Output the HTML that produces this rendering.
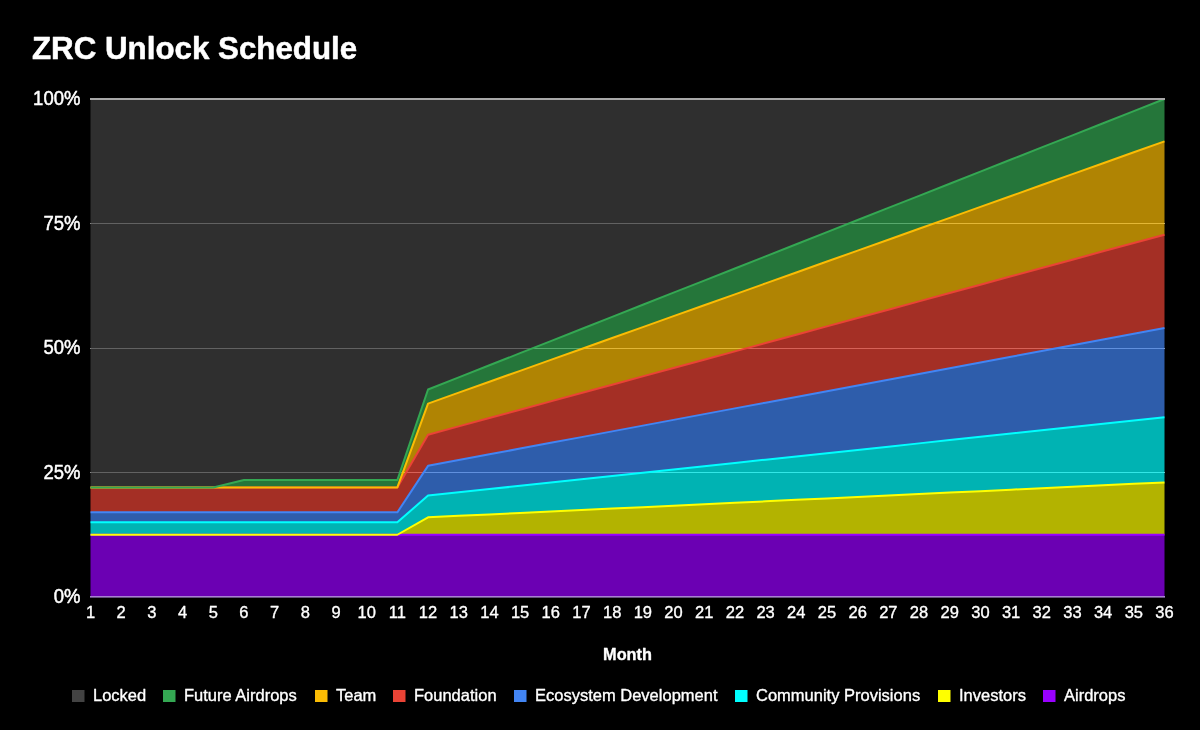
<!DOCTYPE html>
<html lang="en">
<head>
<meta charset="utf-8">
<title>ZRC Unlock Schedule</title>
<style>
html,body{margin:0;padding:0;background:#000;}
body{width:1200px;height:730px;overflow:hidden;font-family:"Liberation Sans",Arial,sans-serif;}
svg{display:block;}
</style>
</head>
<body>
<svg width="1200" height="730" viewBox="0 0 1200 730">
<rect width="1200" height="730" fill="#000"/>
<g fill="#aaaaaa">
<rect x="90" y="223" width="1075" height="1"/>
<rect x="90" y="348" width="1075" height="1"/>
<rect x="90" y="472" width="1075" height="1"/>
</g>
<g stroke-linejoin="round">
<polygon points="90.50,534.75 121.19,534.75 151.87,534.75 182.56,534.75 213.24,534.75 243.93,534.75 274.61,534.75 305.30,534.75 335.99,534.75 366.67,534.75 397.36,534.75 428.04,534.75 458.73,534.75 489.41,534.75 520.10,534.75 550.79,534.75 581.47,534.75 612.16,534.75 642.84,534.75 673.53,534.75 704.21,534.75 734.90,534.75 765.59,534.75 796.27,534.75 826.96,534.75 857.64,534.75 888.33,534.75 919.01,534.75 949.70,534.75 980.39,534.75 1011.07,534.75 1041.76,534.75 1072.44,534.75 1103.13,534.75 1133.81,534.75 1164.50,534.75 1164.50,597.00 1133.81,597.00 1103.13,597.00 1072.44,597.00 1041.76,597.00 1011.07,597.00 980.39,597.00 949.70,597.00 919.01,597.00 888.33,597.00 857.64,597.00 826.96,597.00 796.27,597.00 765.59,597.00 734.90,597.00 704.21,597.00 673.53,597.00 642.84,597.00 612.16,597.00 581.47,597.00 550.79,597.00 520.10,597.00 489.41,597.00 458.73,597.00 428.04,597.00 397.36,597.00 366.67,597.00 335.99,597.00 305.30,597.00 274.61,597.00 243.93,597.00 213.24,597.00 182.56,597.00 151.87,597.00 121.19,597.00 90.50,597.00" fill="#9900ff" fill-opacity="0.7"/>
<polygon points="90.50,534.75 121.19,534.75 151.87,534.75 182.56,534.75 213.24,534.75 243.93,534.75 274.61,534.75 305.30,534.75 335.99,534.75 366.67,534.75 397.36,534.75 428.04,517.30 458.73,515.85 489.41,514.40 520.10,512.94 550.79,511.49 581.47,510.03 612.16,508.58 642.84,507.13 673.53,505.67 704.21,504.22 734.90,502.76 765.59,501.31 796.27,499.86 826.96,498.40 857.64,496.95 888.33,495.50 919.01,494.04 949.70,492.59 980.39,491.13 1011.07,489.68 1041.76,488.23 1072.44,486.77 1103.13,485.32 1133.81,483.86 1164.50,482.41 1164.50,534.75 1133.81,534.75 1103.13,534.75 1072.44,534.75 1041.76,534.75 1011.07,534.75 980.39,534.75 949.70,534.75 919.01,534.75 888.33,534.75 857.64,534.75 826.96,534.75 796.27,534.75 765.59,534.75 734.90,534.75 704.21,534.75 673.53,534.75 642.84,534.75 612.16,534.75 581.47,534.75 550.79,534.75 520.10,534.75 489.41,534.75 458.73,534.75 428.04,534.75 397.36,534.75 366.67,534.75 335.99,534.75 305.30,534.75 274.61,534.75 243.93,534.75 213.24,534.75 182.56,534.75 151.87,534.75 121.19,534.75 90.50,534.75" fill="#ffff00" fill-opacity="0.7"/>
<polygon points="90.50,522.30 121.19,522.30 151.87,522.30 182.56,522.30 213.24,522.30 243.93,522.30 274.61,522.30 305.30,522.30 335.99,522.30 366.67,522.30 397.36,522.30 428.04,495.59 458.73,492.33 489.41,489.06 520.10,485.80 550.79,482.54 581.47,479.27 612.16,476.01 642.84,472.75 673.53,469.48 704.21,466.22 734.90,462.96 765.59,459.69 796.27,456.43 826.96,453.17 857.64,449.90 888.33,446.64 919.01,443.38 949.70,440.11 980.39,436.85 1011.07,433.59 1041.76,430.32 1072.44,427.06 1103.13,423.80 1133.81,420.54 1164.50,417.27 1164.50,482.41 1133.81,483.86 1103.13,485.32 1072.44,486.77 1041.76,488.23 1011.07,489.68 980.39,491.13 949.70,492.59 919.01,494.04 888.33,495.50 857.64,496.95 826.96,498.40 796.27,499.86 765.59,501.31 734.90,502.76 704.21,504.22 673.53,505.67 642.84,507.13 612.16,508.58 581.47,510.03 550.79,511.49 520.10,512.94 489.41,514.40 458.73,515.85 428.04,517.30 397.36,534.75 366.67,534.75 335.99,534.75 305.30,534.75 274.61,534.75 243.93,534.75 213.24,534.75 182.56,534.75 151.87,534.75 121.19,534.75 90.50,534.75" fill="#00ffff" fill-opacity="0.7"/>
<polygon points="90.50,512.34 121.19,512.34 151.87,512.34 182.56,512.34 213.24,512.34 243.93,512.34 274.61,512.34 305.30,512.34 335.99,512.34 366.67,512.34 397.36,512.34 428.04,465.83 458.73,460.08 489.41,454.34 520.10,448.60 550.79,442.85 581.47,437.11 612.16,431.37 642.84,425.62 673.53,419.88 704.21,414.13 734.90,408.39 765.59,402.65 796.27,396.90 826.96,391.16 857.64,385.42 888.33,379.67 919.01,373.93 949.70,368.19 980.39,362.44 1011.07,356.70 1041.76,350.95 1072.44,345.21 1103.13,339.47 1133.81,333.72 1164.50,327.98 1164.50,417.27 1133.81,420.54 1103.13,423.80 1072.44,427.06 1041.76,430.32 1011.07,433.59 980.39,436.85 949.70,440.11 919.01,443.38 888.33,446.64 857.64,449.90 826.96,453.17 796.27,456.43 765.59,459.69 734.90,462.96 704.21,466.22 673.53,469.48 642.84,472.75 612.16,476.01 581.47,479.27 550.79,482.54 520.10,485.80 489.41,489.06 458.73,492.33 428.04,495.59 397.36,522.30 366.67,522.30 335.99,522.30 305.30,522.30 274.61,522.30 243.93,522.30 213.24,522.30 182.56,522.30 151.87,522.30 121.19,522.30 90.50,522.30" fill="#4285f4" fill-opacity="0.7"/>
<polygon points="90.50,487.44 121.19,487.44 151.87,487.44 182.56,487.44 213.24,487.44 243.93,487.44 274.61,487.44 305.30,487.44 335.99,487.44 366.67,487.44 397.36,487.44 428.04,434.72 458.73,426.38 489.41,418.05 520.10,409.71 550.79,401.37 581.47,393.04 612.16,384.70 642.84,376.37 673.53,368.03 704.21,359.69 734.90,351.36 765.59,343.02 796.27,334.69 826.96,326.35 857.64,318.01 888.33,309.68 919.01,301.34 949.70,293.01 980.39,284.67 1011.07,276.34 1041.76,268.00 1072.44,259.66 1103.13,251.33 1133.81,242.99 1164.50,234.66 1164.50,327.98 1133.81,333.72 1103.13,339.47 1072.44,345.21 1041.76,350.95 1011.07,356.70 980.39,362.44 949.70,368.19 919.01,373.93 888.33,379.67 857.64,385.42 826.96,391.16 796.27,396.90 765.59,402.65 734.90,408.39 704.21,414.13 673.53,419.88 642.84,425.62 612.16,431.37 581.47,437.11 550.79,442.85 520.10,448.60 489.41,454.34 458.73,460.08 428.04,465.83 397.36,512.34 366.67,512.34 335.99,512.34 305.30,512.34 274.61,512.34 243.93,512.34 213.24,512.34 182.56,512.34 151.87,512.34 121.19,512.34 90.50,512.34" fill="#ea4335" fill-opacity="0.7"/>
<polygon points="90.50,487.44 121.19,487.44 151.87,487.44 182.56,487.44 213.24,487.44 243.93,487.44 274.61,487.44 305.30,487.44 335.99,487.44 366.67,487.44 397.36,487.44 428.04,403.61 458.73,392.68 489.41,381.75 520.10,370.83 550.79,359.90 581.47,348.97 612.16,338.04 642.84,327.11 673.53,316.18 704.21,305.26 734.90,294.33 765.59,283.40 796.27,272.47 826.96,261.54 857.64,250.61 888.33,239.69 919.01,228.76 949.70,217.83 980.39,206.90 1011.07,195.97 1041.76,185.04 1072.44,174.12 1103.13,163.19 1133.81,152.26 1164.50,141.33 1164.50,234.66 1133.81,242.99 1103.13,251.33 1072.44,259.66 1041.76,268.00 1011.07,276.34 980.39,284.67 949.70,293.01 919.01,301.34 888.33,309.68 857.64,318.01 826.96,326.35 796.27,334.69 765.59,343.02 734.90,351.36 704.21,359.69 673.53,368.03 642.84,376.37 612.16,384.70 581.47,393.04 550.79,401.37 520.10,409.71 489.41,418.05 458.73,426.38 428.04,434.72 397.36,487.44 366.67,487.44 335.99,487.44 305.30,487.44 274.61,487.44 243.93,487.44 213.24,487.44 182.56,487.44 151.87,487.44 121.19,487.44 90.50,487.44" fill="#fbbc04" fill-opacity="0.7"/>
<polygon points="90.50,487.44 121.19,487.44 151.87,487.44 182.56,487.44 213.24,487.44 243.93,479.97 274.61,479.97 305.30,479.97 335.99,479.97 366.67,479.97 397.36,479.97 428.04,389.50 458.73,377.40 489.41,365.29 520.10,353.19 550.79,341.08 581.47,328.98 612.16,316.88 642.84,304.77 673.53,292.67 704.21,280.56 734.90,268.46 765.59,256.35 796.27,244.25 826.96,232.15 857.64,220.04 888.33,207.94 919.01,195.83 949.70,183.73 980.39,171.63 1011.07,159.52 1041.76,147.42 1072.44,135.31 1103.13,123.21 1133.81,111.10 1164.50,99.00 1164.50,141.33 1133.81,152.26 1103.13,163.19 1072.44,174.12 1041.76,185.04 1011.07,195.97 980.39,206.90 949.70,217.83 919.01,228.76 888.33,239.69 857.64,250.61 826.96,261.54 796.27,272.47 765.59,283.40 734.90,294.33 704.21,305.26 673.53,316.18 642.84,327.11 612.16,338.04 581.47,348.97 550.79,359.90 520.10,370.83 489.41,381.75 458.73,392.68 428.04,403.61 397.36,487.44 366.67,487.44 335.99,487.44 305.30,487.44 274.61,487.44 243.93,487.44 213.24,487.44 182.56,487.44 151.87,487.44 121.19,487.44 90.50,487.44" fill="#34a853" fill-opacity="0.7"/>
<polygon points="90.50,99.00 121.19,99.00 151.87,99.00 182.56,99.00 213.24,99.00 243.93,99.00 274.61,99.00 305.30,99.00 335.99,99.00 366.67,99.00 397.36,99.00 428.04,99.00 458.73,99.00 489.41,99.00 520.10,99.00 550.79,99.00 581.47,99.00 612.16,99.00 642.84,99.00 673.53,99.00 704.21,99.00 734.90,99.00 765.59,99.00 796.27,99.00 826.96,99.00 857.64,99.00 888.33,99.00 919.01,99.00 949.70,99.00 980.39,99.00 1011.07,99.00 1041.76,99.00 1072.44,99.00 1103.13,99.00 1133.81,99.00 1164.50,99.00 1164.50,99.00 1133.81,111.10 1103.13,123.21 1072.44,135.31 1041.76,147.42 1011.07,159.52 980.39,171.63 949.70,183.73 919.01,195.83 888.33,207.94 857.64,220.04 826.96,232.15 796.27,244.25 765.59,256.35 734.90,268.46 704.21,280.56 673.53,292.67 642.84,304.77 612.16,316.88 581.47,328.98 550.79,341.08 520.10,353.19 489.41,365.29 458.73,377.40 428.04,389.50 397.36,479.97 366.67,479.97 335.99,479.97 305.30,479.97 274.61,479.97 243.93,479.97 213.24,487.44 182.56,487.44 151.87,487.44 121.19,487.44 90.50,487.44" fill="#434343" fill-opacity="0.7"/>
<polyline points="90.50,534.75 121.19,534.75 151.87,534.75 182.56,534.75 213.24,534.75 243.93,534.75 274.61,534.75 305.30,534.75 335.99,534.75 366.67,534.75 397.36,534.75 428.04,534.75 458.73,534.75 489.41,534.75 520.10,534.75 550.79,534.75 581.47,534.75 612.16,534.75 642.84,534.75 673.53,534.75 704.21,534.75 734.90,534.75 765.59,534.75 796.27,534.75 826.96,534.75 857.64,534.75 888.33,534.75 919.01,534.75 949.70,534.75 980.39,534.75 1011.07,534.75 1041.76,534.75 1072.44,534.75 1103.13,534.75 1133.81,534.75 1164.50,534.75" fill="none" stroke="#9900ff" stroke-width="2"/>
<polyline points="90.50,534.75 121.19,534.75 151.87,534.75 182.56,534.75 213.24,534.75 243.93,534.75 274.61,534.75 305.30,534.75 335.99,534.75 366.67,534.75 397.36,534.75 428.04,517.30 458.73,515.85 489.41,514.40 520.10,512.94 550.79,511.49 581.47,510.03 612.16,508.58 642.84,507.13 673.53,505.67 704.21,504.22 734.90,502.76 765.59,501.31 796.27,499.86 826.96,498.40 857.64,496.95 888.33,495.50 919.01,494.04 949.70,492.59 980.39,491.13 1011.07,489.68 1041.76,488.23 1072.44,486.77 1103.13,485.32 1133.81,483.86 1164.50,482.41" fill="none" stroke="#ffff00" stroke-width="2"/>
<polyline points="90.50,522.30 121.19,522.30 151.87,522.30 182.56,522.30 213.24,522.30 243.93,522.30 274.61,522.30 305.30,522.30 335.99,522.30 366.67,522.30 397.36,522.30 428.04,495.59 458.73,492.33 489.41,489.06 520.10,485.80 550.79,482.54 581.47,479.27 612.16,476.01 642.84,472.75 673.53,469.48 704.21,466.22 734.90,462.96 765.59,459.69 796.27,456.43 826.96,453.17 857.64,449.90 888.33,446.64 919.01,443.38 949.70,440.11 980.39,436.85 1011.07,433.59 1041.76,430.32 1072.44,427.06 1103.13,423.80 1133.81,420.54 1164.50,417.27" fill="none" stroke="#00ffff" stroke-width="2"/>
<polyline points="90.50,512.34 121.19,512.34 151.87,512.34 182.56,512.34 213.24,512.34 243.93,512.34 274.61,512.34 305.30,512.34 335.99,512.34 366.67,512.34 397.36,512.34 428.04,465.83 458.73,460.08 489.41,454.34 520.10,448.60 550.79,442.85 581.47,437.11 612.16,431.37 642.84,425.62 673.53,419.88 704.21,414.13 734.90,408.39 765.59,402.65 796.27,396.90 826.96,391.16 857.64,385.42 888.33,379.67 919.01,373.93 949.70,368.19 980.39,362.44 1011.07,356.70 1041.76,350.95 1072.44,345.21 1103.13,339.47 1133.81,333.72 1164.50,327.98" fill="none" stroke="#4285f4" stroke-width="2"/>
<polyline points="90.50,487.44 121.19,487.44 151.87,487.44 182.56,487.44 213.24,487.44 243.93,487.44 274.61,487.44 305.30,487.44 335.99,487.44 366.67,487.44 397.36,487.44 428.04,434.72 458.73,426.38 489.41,418.05 520.10,409.71 550.79,401.37 581.47,393.04 612.16,384.70 642.84,376.37 673.53,368.03 704.21,359.69 734.90,351.36 765.59,343.02 796.27,334.69 826.96,326.35 857.64,318.01 888.33,309.68 919.01,301.34 949.70,293.01 980.39,284.67 1011.07,276.34 1041.76,268.00 1072.44,259.66 1103.13,251.33 1133.81,242.99 1164.50,234.66" fill="none" stroke="#ea4335" stroke-width="2"/>
<polyline points="90.50,487.44 121.19,487.44 151.87,487.44 182.56,487.44 213.24,487.44 243.93,487.44 274.61,487.44 305.30,487.44 335.99,487.44 366.67,487.44 397.36,487.44 428.04,403.61 458.73,392.68 489.41,381.75 520.10,370.83 550.79,359.90 581.47,348.97 612.16,338.04 642.84,327.11 673.53,316.18 704.21,305.26 734.90,294.33 765.59,283.40 796.27,272.47 826.96,261.54 857.64,250.61 888.33,239.69 919.01,228.76 949.70,217.83 980.39,206.90 1011.07,195.97 1041.76,185.04 1072.44,174.12 1103.13,163.19 1133.81,152.26 1164.50,141.33" fill="none" stroke="#fbbc04" stroke-width="2"/>
<polyline points="90.50,487.44 121.19,487.44 151.87,487.44 182.56,487.44 213.24,487.44 243.93,479.97 274.61,479.97 305.30,479.97 335.99,479.97 366.67,479.97 397.36,479.97 428.04,389.50 458.73,377.40 489.41,365.29 520.10,353.19 550.79,341.08 581.47,328.98 612.16,316.88 642.84,304.77 673.53,292.67 704.21,280.56 734.90,268.46 765.59,256.35 796.27,244.25 826.96,232.15 857.64,220.04 888.33,207.94 919.01,195.83 949.70,183.73 980.39,171.63 1011.07,159.52 1041.76,147.42 1072.44,135.31 1103.13,123.21 1133.81,111.10 1164.50,99.00" fill="none" stroke="#34a853" stroke-width="2"/>
</g>
<rect x="90" y="98" width="1075" height="2" fill="#a8a8a8"/>
<rect x="90" y="596" width="1075" height="1.6" fill="#a880d2"/>
<g font-family="'Liberation Sans', Arial, sans-serif" fill="#fff" stroke="#fff" stroke-width="0.35" stroke-linejoin="round">
<text x="32.0" y="58.6" font-size="31.3" font-weight="bold" stroke-width="0.5">ZRC Unlock Schedule</text>
<g font-size="18.5" text-anchor="end" stroke-width="0.45">
<text transform="translate(80.4 105.0) scale(1 1.05)">100%</text>
<text transform="translate(80.4 229.5) scale(1 1.05)">75%</text>
<text transform="translate(80.4 354.0) scale(1 1.05)">50%</text>
<text transform="translate(80.4 478.5) scale(1 1.05)">25%</text>
<text transform="translate(80.4 603.0) scale(1 1.05)">0%</text>
</g>
<g font-size="16.5" text-anchor="middle">
<text x="90.50" y="617.5">1</text>
<text x="121.19" y="617.5">2</text>
<text x="151.87" y="617.5">3</text>
<text x="182.56" y="617.5">4</text>
<text x="213.24" y="617.5">5</text>
<text x="243.93" y="617.5">6</text>
<text x="274.61" y="617.5">7</text>
<text x="305.30" y="617.5">8</text>
<text x="335.99" y="617.5">9</text>
<text x="366.67" y="617.5">10</text>
<text x="397.36" y="617.5">11</text>
<text x="428.04" y="617.5">12</text>
<text x="458.73" y="617.5">13</text>
<text x="489.41" y="617.5">14</text>
<text x="520.10" y="617.5">15</text>
<text x="550.79" y="617.5">16</text>
<text x="581.47" y="617.5">17</text>
<text x="612.16" y="617.5">18</text>
<text x="642.84" y="617.5">19</text>
<text x="673.53" y="617.5">20</text>
<text x="704.21" y="617.5">21</text>
<text x="734.90" y="617.5">22</text>
<text x="765.59" y="617.5">23</text>
<text x="796.27" y="617.5">24</text>
<text x="826.96" y="617.5">25</text>
<text x="857.64" y="617.5">26</text>
<text x="888.33" y="617.5">27</text>
<text x="919.01" y="617.5">28</text>
<text x="949.70" y="617.5">29</text>
<text x="980.39" y="617.5">30</text>
<text x="1011.07" y="617.5">31</text>
<text x="1041.76" y="617.5">32</text>
<text x="1072.44" y="617.5">33</text>
<text x="1103.13" y="617.5">34</text>
<text x="1133.81" y="617.5">35</text>
<text x="1164.50" y="617.5">36</text>
</g>
<text x="627.5" y="659.7" font-size="16.3" font-weight="bold" text-anchor="middle">Month</text>
<g font-size="16.5">
<rect x="72" y="690" width="12.5" height="12" fill="#434343" stroke="none"/>
<text x="93" y="700.8">Locked</text>
<rect x="163" y="690" width="12.5" height="12" fill="#34a853" stroke="none"/>
<text x="184" y="700.8">Future Airdrops</text>
<rect x="315" y="690" width="12.5" height="12" fill="#fbbc04" stroke="none"/>
<text x="336" y="700.8">Team</text>
<rect x="393" y="690" width="12.5" height="12" fill="#ea4335" stroke="none"/>
<text x="414" y="700.8">Foundation</text>
<rect x="514" y="690" width="12.5" height="12" fill="#4285f4" stroke="none"/>
<text x="535" y="700.8">Ecosystem Development</text>
<rect x="735" y="690" width="12.5" height="12" fill="#00ffff" stroke="none"/>
<text x="756" y="700.8">Community Provisions</text>
<rect x="938" y="690" width="12.5" height="12" fill="#ffff00" stroke="none"/>
<text x="959" y="700.8">Investors</text>
<rect x="1043" y="690" width="12.5" height="12" fill="#9900ff" stroke="none"/>
<text x="1064" y="700.8">Airdrops</text>
</g>
</g>
</svg>
</body>
</html>
